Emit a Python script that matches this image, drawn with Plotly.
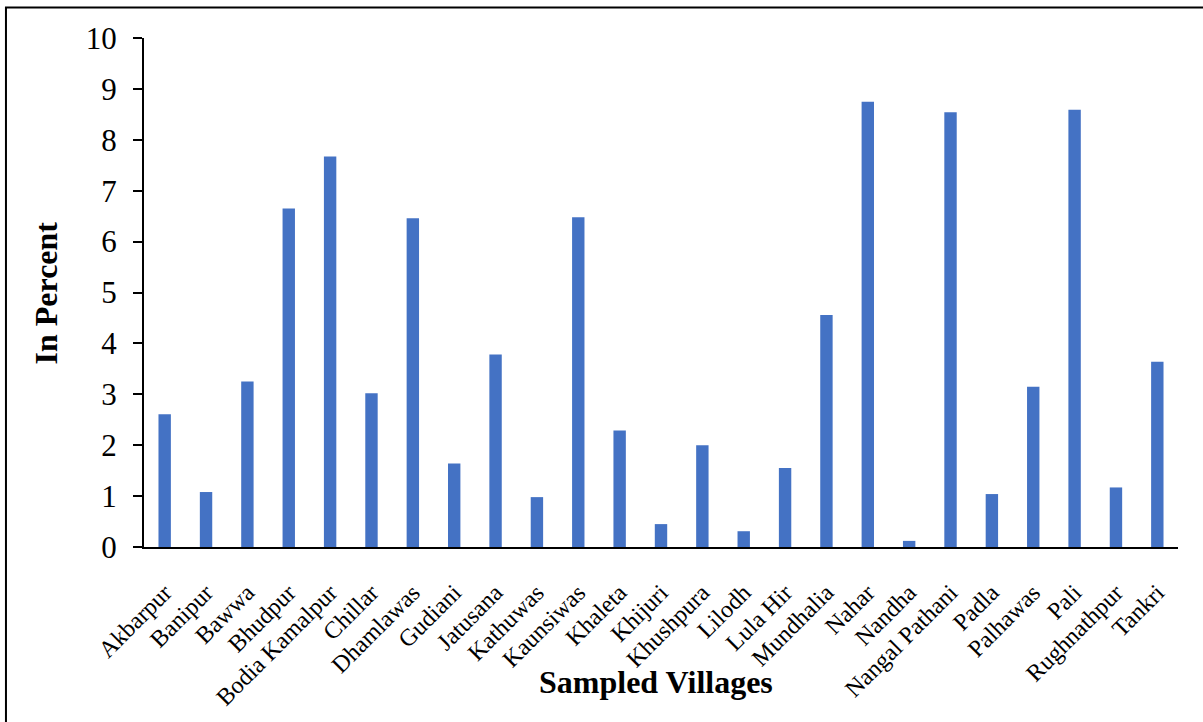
import plotly.graph_objects as go

villages = [
    "Akbarpur", "Banipur", "Bawwa", "Bhudpur", "Bodia Kamalpur", "Chillar",
    "Dhamlawas", "Gudiani", "Jatusana", "Kathuwas", "Kaunsiwas", "Khaleta",
    "Khijuri", "Khushpura", "Lilodh", "Lula Hir", "Mundhalia", "Nahar",
    "Nandha", "Nangal Pathani", "Padla", "Palhawas", "Pali", "Rughnathpur",
    "Tankri",
]
percent = [
    2.61, 1.08, 3.25, 6.65, 7.67, 3.02,
    6.46, 1.64, 3.78, 0.98, 6.48, 2.29,
    0.45, 2.00, 0.31, 1.55, 4.56, 8.75,
    0.12, 8.54, 1.04, 3.15, 8.59, 1.17,
    3.64,
]
y_ticks = list(range(0, 11))

serif = "Liberation Serif, Times New Roman, serif"

fig = go.Figure(
    go.Bar(
        x=villages,
        y=percent,
        marker=dict(color="#4472C4", line=dict(width=0)),
    )
)

fig.update_layout(
    width=1203,
    height=722,
    margin=dict(l=144, r=25, t=38, b=173),
    paper_bgcolor="white",
    plot_bgcolor="white",
    bargap=0.7,
    showlegend=False,
    font=dict(family=serif, color="black"),
    xaxis=dict(
        showline=True,
        linecolor="black",
        linewidth=2,
        ticks="",
        tickangle=-45,
        tickfont=dict(family=serif, size=24, color="black"),
        ticklabelstandoff=20,
        showgrid=False,
        zeroline=False,
    ),
    yaxis=dict(
        range=[0, 10],
        tickvals=y_ticks,
        showline=True,
        linecolor="black",
        linewidth=2,
        ticks="outside",
        ticklen=9,
        tickwidth=2,
        tickcolor="black",
        tickfont=dict(family=serif, size=31, color="black"),
        ticklabelstandoff=10,
        showgrid=False,
        zeroline=False,
    ),
    annotations=[
        dict(
            text="<b>In Percent</b>",
            xref="paper", yref="paper",
            x=-0.0948, y=0.5,
            xanchor="center", yanchor="middle",
            textangle=-90,
            showarrow=False,
            font=dict(family=serif, size=32, color="black"),
        ),
        dict(
            text="<b>Sampled Villages</b>",
            xref="paper", yref="paper",
            x=0.495, y=-0.266,
            xanchor="center", yanchor="middle",
            showarrow=False,
            font=dict(family=serif, size=32, color="black"),
        ),
    ],
    shapes=[
        # outer frame (top and left edges fall inside the page)
        dict(
            type="rect",
            xref="paper", yref="paper",
            x0=-0.1335, x1=1.06, y0=-0.36, y1=1.0597,
            line=dict(color="black", width=2),
            fillcolor="rgba(0,0,0,0)",
            layer="above",
        ),
    ],
)

fig.write_html("out.html")
